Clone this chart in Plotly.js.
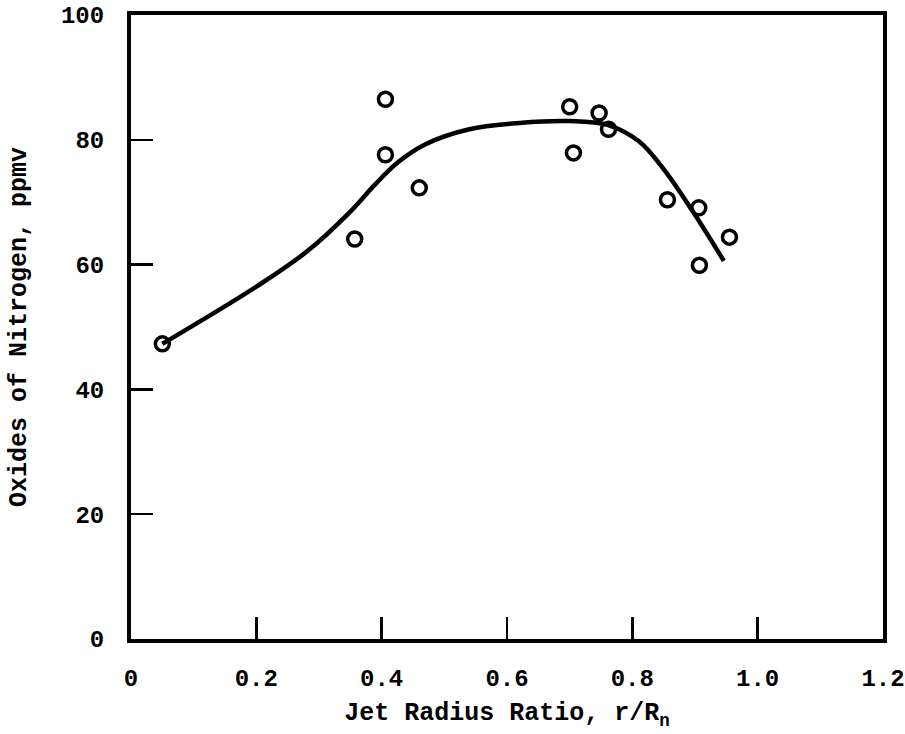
<!DOCTYPE html>
<html>
<head>
<meta charset="utf-8">
<script src="https://cdn.plot.ly/plotly-3.0.1.min.js"></script>
<style>html,body{margin:0;padding:0;background:#fff;}</style>
</head>
<body>
<div id="chart" style="width:905px;height:734px;"></div>
<script>
// Measured data points (open circles)
const xPts = [0.05, 0.357, 0.406, 0.406, 0.46, 0.70, 0.706, 0.747, 0.762, 0.856, 0.906, 0.907, 0.955];
const yPts = [47.3, 64.1, 86.5, 77.6, 72.3, 85.3, 77.9, 84.3, 81.7, 70.4, 69.1, 59.9, 64.4];

// Faired curve
const xCurve = [0.05, 0.202, 0.282, 0.35, 0.39, 0.426, 0.47, 0.54, 0.62, 0.70, 0.76, 0.81, 0.85, 0.894, 0.946];
const yCurve = [47.3, 56.6, 62.2, 68.5, 72.9, 76.4, 79.3, 81.7, 82.7, 83.0, 82.4, 79.8, 75.3, 68.9, 60.6];

// Tick labels
const xTickVals = [0, 0.2, 0.4, 0.6, 0.8, 1.0, 1.2];
const xTickText = ['0', '0.2', '0.4', '0.6', '0.8', '1.0', '1.2'];
const yTickVals = [0, 20, 40, 60, 80, 100];
const yTickText = ['0', '20', '40', '60', '80', '100'];

const FONT = 'Liberation Mono, DejaVu Sans Mono, monospace';

const traces = [
  {
    x: xCurve, y: yCurve, mode: 'lines', type: 'scatter',
    line: {color: '#000', width: 4.5, shape: 'spline', smoothing: 1},
    hoverinfo: 'skip', showlegend: false
  },
  {
    x: xPts, y: yPts, mode: 'markers', type: 'scatter',
    marker: {symbol: 'circle-open', size: 14, color: '#000', line: {width: 3.5, color: '#000'}},
    showlegend: false
  }
];

const layout = {
  width: 905, height: 734,
  margin: {l: 131, r: 22, t: 15, b: 95},
  paper_bgcolor: '#fff', plot_bgcolor: '#fff',
  font: {family: FONT, color: '#000', size: 24, weight: 'bold'},
  showlegend: false,
  xaxis: {
    range: [0, 1.2], tickvals: xTickVals, ticktext: xTickText,
    ticks: 'inside', ticklen: 22, tickwidth: 2.5, tickcolor: '#000',
    showline: true, linewidth: 4, linecolor: '#000', mirror: true,
    showgrid: false, zeroline: false,
    ticklabelstandoff: 14,
    tickfont: {family: FONT, size: 24, color: '#000', weight: 'bold'},
    title: {text: 'Jet Radius Ratio, r/R<sub>n</sub>', standoff: 12,
            font: {family: FONT, size: 25, color: '#000', weight: 'bold'}}
  },
  yaxis: {
    range: [0, 100], tickvals: yTickVals, ticktext: yTickText,
    ticks: 'inside', ticklen: 22, tickwidth: 2.5, tickcolor: '#000',
    showline: true, linewidth: 4, linecolor: '#000', mirror: true,
    showgrid: false, zeroline: false,
    ticklabelstandoff: 18,
    tickfont: {family: FONT, size: 24, color: '#000', weight: 'bold'},
    title: {text: 'Oxides of Nitrogen, ppmv', standoff: 28,
            font: {family: FONT, size: 25, color: '#000', weight: 'bold'}}
  }
};

Plotly.newPlot('chart', traces, layout, {displayModeBar: false, staticPlot: true});
</script>
</body>
</html>
